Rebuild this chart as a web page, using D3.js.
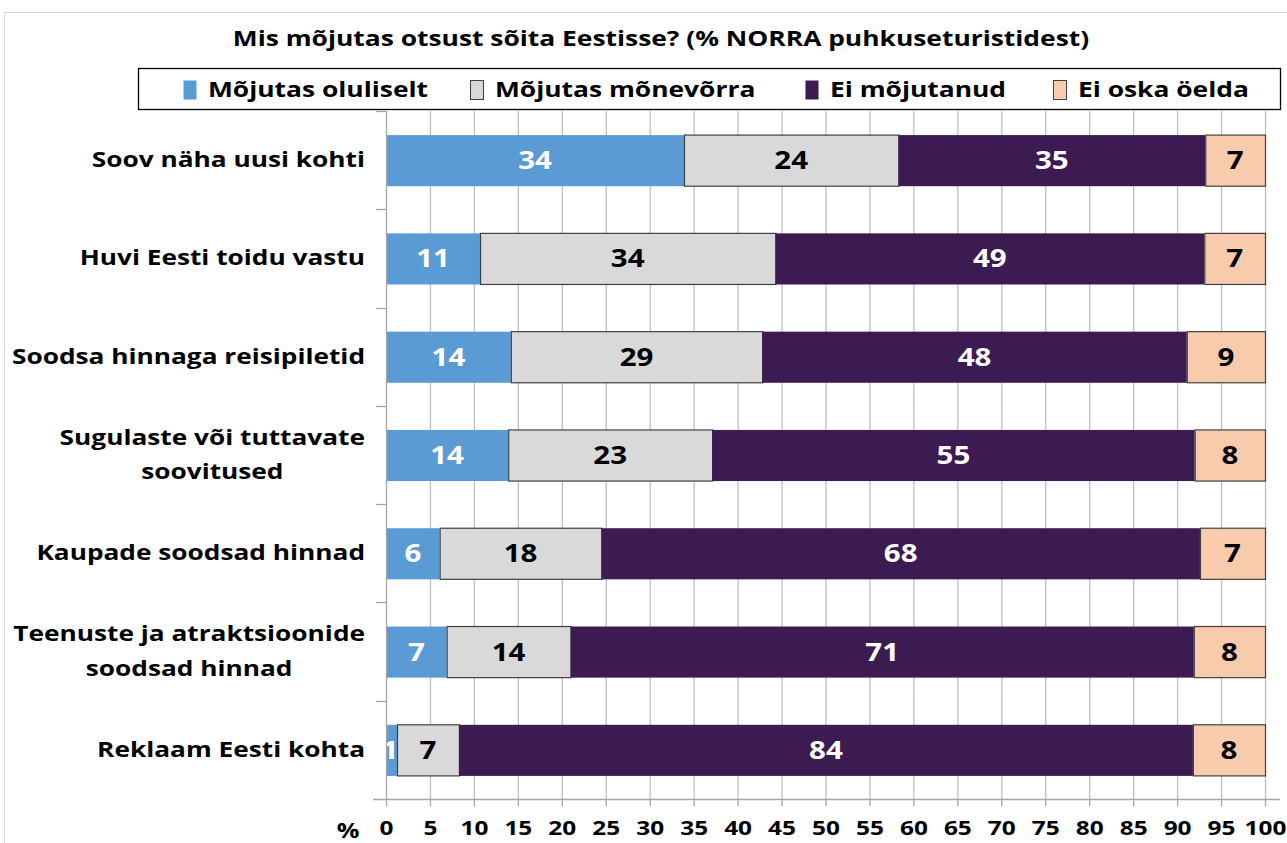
<!DOCTYPE html>
<html><head><meta charset="utf-8">
<script src="https://cdn.jsdelivr.net/npm/d3@7"></script>
<style>body{margin:0;background:#fff}svg{display:block}text{font-family:"Open Sans",Lato,sans-serif;font-weight:bold}</style>
</head><body>
<script>
const categories = [
  ["Soov näha uusi kohti"],
  ["Huvi Eesti toidu vastu"],
  ["Soodsa hinnaga reisipiletid"],
  ["Sugulaste või tuttavate", "soovitused"],
  ["Kaupade soodsad hinnad"],
  ["Teenuste ja atraktsioonide", "soodsad hinnad"],
  ["Reklaam Eesti kohta"]
];
const seriesNames = ["Mõjutas oluliselt", "Mõjutas mõnevõrra", "Ei mõjutanud", "Ei oska öelda"];
const mojutasOluliselt = [33.9, 10.7, 14.2, 13.9, 6.1, 6.9, 1.25];
const mojutasMonevorra = [24.4, 33.6, 28.6, 23.2, 18.4, 14.1, 7.05];
const eiMojutanud     = [34.9, 48.8, 48.3, 54.9, 68.1, 70.9, 83.5];
const eiOskaOelda     = [6.8, 6.9, 8.9, 8.0, 7.4, 8.1, 8.2];
const ticks = d3.range(0, 101, 5);
const title = "Mis mõjutas otsust sõita Eestisse? (% NORRA puhkuseturistidest)";

const colors = ["#5b9bd5", "#d9d9d9", "#3c1a52", "#f8cbad"];
const labelColors = ["#fff", "#000", "#fff", "#000"];
const strokes = ["none", "#404040", "none", "#404040"];
const SX = 1.22; // horizontal stretch of the reference lettering

const W = 1287, H = 843;
const svg = d3.select("body").append("svg").attr("width", W).attr("height", H);
svg.append("rect").attr("x", 4.5).attr("y", 12.5).attr("width", 1400).attr("height", 1000)
  .attr("fill", "#fff").attr("stroke", "#d9d9d9");

function stretchedText(parent, px, py, sx) {
  return parent.append("g").attr("transform", `translate(${px},${py}) scale(${sx},1)`).append("text");
}

const x = d3.scaleLinear().domain([0, 100]).range([386, 1265]);
const y = d3.scaleBand().domain(d3.range(categories.length)).range([111, 799]).paddingInner(0.48).paddingOuter(0.24);

// gridlines
svg.append("g").selectAll("line").data(ticks.slice(1)).join("line")
  .attr("x1", d => x(d) + 0.5).attr("x2", d => x(d) + 0.5).attr("y1", 111).attr("y2", 799)
  .attr("stroke", "#bfbfbf").attr("stroke-width", 1.3);

// stacked data
const table = categories.map((c, i) => ({i, v: [mojutasOluliselt[i], mojutasMonevorra[i], eiMojutanud[i], eiOskaOelda[i]]}));
const stack = d3.stack().keys([0, 1, 2, 3]).value((d, k) => d.v[k]);
const stacked = stack(table);

const gBars = svg.append("g");
stacked.forEach((s, k) => {
  const g = gBars.append("g");
  g.selectAll("rect").data(s).join("rect")
    .attr("x", d => x(d[0]) + (strokes[k] !== "none" ? 0.5 : 0))
    .attr("y", d => y(d.data.i) + 0.5)
    .attr("width", d => x(d[1]) - x(d[0]))
    .attr("height", y.bandwidth())
    .attr("fill", colors[k])
    .attr("stroke", strokes[k]).attr("stroke-width", 1.2);
  s.forEach(d => {
    const w = x(d[1]) - x(d[0]);
    const cx = k === 0 && w < 14 ? x(d[0]) + 4 : (x(d[0]) + x(d[1])) / 2;
    stretchedText(g, cx, y(d.data.i) + y.bandwidth() / 2 + 9, 1.18)
      .attr("text-anchor", "middle").attr("font-size", 25).attr("fill", labelColors[k])
      .text(Math.round(d[1] - d[0]));
  });
});

// left axis
svg.append("line").attr("x1", 386.5).attr("x2", 386.5).attr("y1", 111).attr("y2", 799)
  .attr("stroke", "#a6a6a6").attr("stroke-width", 1.3);
svg.append("g").selectAll("line").data(d3.range(categories.length)).join("line")
  .attr("x1", 376).attr("x2", 386).attr("y1", d => Math.round(y(d) - y.step() * 0.24) + 0.5)
  .attr("y2", d => Math.round(y(d) - y.step() * 0.24) + 0.5)
  .attr("stroke", "#a6a6a6").attr("stroke-width", 1.3);

// category labels: block right-aligned at 365, lines centred inside block
const gl = svg.append("g");
categories.forEach((lines, i) => {
  const cy = y(i) + y.bandwidth() / 2;
  const t = stretchedText(gl, 365, cy, 1.25).attr("font-size", 21).attr("fill", "#000").attr("text-anchor", "middle");
  const spans = lines.map((ln, j) => t.append("tspan").attr("y", 7 + (j - (lines.length - 1) / 2) * 35).text(ln));
  const wmax = d3.max(spans.map(s => s.node().getComputedTextLength()));
  spans.forEach(s => s.attr("x", -wmax / 2));
});

// bottom axis
const xAxis = d3.axisBottom(x).tickValues(ticks).tickSize(7).tickPadding(14).tickFormat(d3.format("d"));
const ga = svg.append("g").attr("transform", "translate(0,799.5)").call(xAxis);
ga.select(".domain").remove();
ga.append("line").attr("x1", 373).attr("x2", 1280).attr("stroke", "#a6a6a6").attr("stroke-width", 1.5);
ga.selectAll(".tick line").attr("stroke", "#a6a6a6").attr("stroke-width", 1.3);
ga.selectAll(".tick text").attr("font-size", 20).attr("fill", "#000").attr("font-family", "'Open Sans',sans-serif")
  .attr("font-weight", "bold").attr("transform", "scale(1.22,1)");
stretchedText(svg, 348, 838, 1.2).attr("text-anchor", "middle").attr("font-size", 21).text("%");

// title
stretchedText(svg, 661, 46, 1.2).attr("text-anchor", "middle").attr("font-size", 22).attr("fill", "#000").text(title);

// legend
svg.append("rect").attr("x", 138.5).attr("y", 68.5).attr("width", 1142).attr("height", 41)
  .attr("fill", "#fff").attr("stroke", "#000").attr("stroke-width", 1.3);
const legX = [183, 470, 805, 1053];
seriesNames.forEach((n, k) => {
  svg.append("rect").attr("x", legX[k] + 0.5).attr("y", 80.5).attr("width", 13).attr("height", 19)
    .attr("fill", colors[k]).attr("stroke", strokes[k]);
  stretchedText(svg, legX[k] + 25, 97, 1.2).attr("font-size", 22).attr("fill", "#000").text(n);
});
</script>
</body></html>
